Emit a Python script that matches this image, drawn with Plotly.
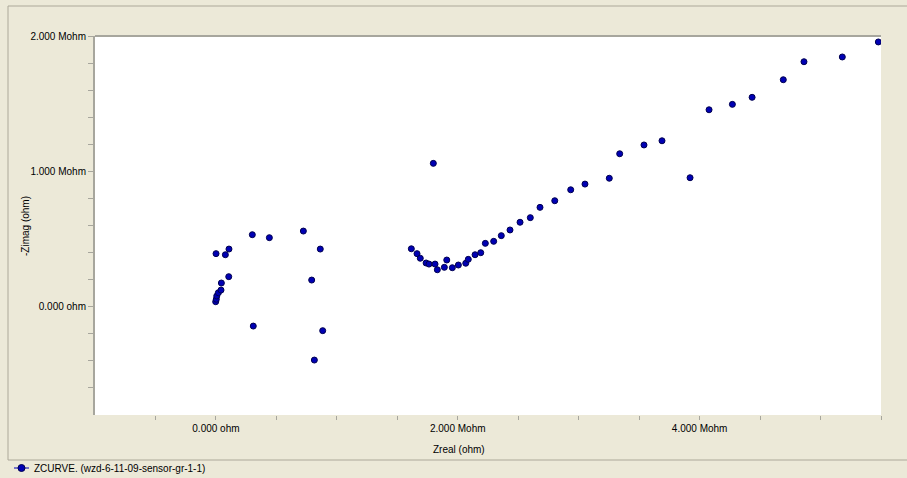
import plotly.graph_objects as go

# Impedance spectrum (Nyquist plot), values in Mohm
zreal_mohm = [
    -0.002, 0.003, 0.007, 0.020, 0.042, 0.045, 0.106, 0.001, 0.078, 0.108,
    0.301, 0.442, 0.723, 0.863, 0.792, 0.309, 0.883, 0.814,
    1.798, 1.616, 1.663, 1.690, 1.738, 1.762, 1.812, 1.831, 1.889, 1.909,
    1.955, 2.005, 2.066, 2.087, 2.143, 2.190, 2.228, 2.297, 2.360, 2.432,
    2.515, 2.600, 2.680, 2.802, 2.934, 3.052, 3.253, 3.339, 3.540, 3.689,
    3.921, 4.078, 4.271, 4.434, 4.692, 4.863, 5.180, 5.478,
]
zimag_neg_mohm = [
    0.037, 0.055, 0.079, 0.103, 0.123, 0.175, 0.222, 0.392, 0.384, 0.426,
    0.532, 0.510, 0.559, 0.426, 0.197, -0.143, -0.177, -0.394,
    1.059, 0.428, 0.392, 0.358, 0.323, 0.315, 0.315, 0.273, 0.291, 0.345,
    0.288, 0.308, 0.321, 0.350, 0.384, 0.399, 0.468, 0.483, 0.525, 0.567,
    0.624, 0.658, 0.734, 0.783, 0.864, 0.906, 0.949, 1.130, 1.195, 1.226,
    0.953, 1.455, 1.495, 1.547, 1.677, 1.810, 1.845, 1.956,
]

series_name = "ZCURVE. (wzd-6-11-09-sensor-gr-1-1)"

x_tick_vals = [-0.5, 0.0, 0.5, 1.0, 1.5, 2.0, 2.5, 3.0, 3.5, 4.0, 4.5, 5.0, 5.5]
x_tick_text = ["", "0.000 ohm", "", "", "", "2.000 Mohm", "", "", "", "4.000 Mohm", "", "", ""]
y_tick_vals = [-0.6, -0.4, -0.2, 0.0, 0.2, 0.4, 0.6, 0.8, 1.0, 1.2, 1.4, 1.6, 1.8, 2.0]
y_tick_text = ["", "", "", "0.000 ohm", "", "", "", "", "1.000 Mohm", "", "", "", "", "2.000 Mohm"]

BEIGE = "#ECE9D8"
FRAME = "#ACA899"
AXIS = "#A7A69D"
DOT = "#0000B4"
DOT_EDGE = "#000050"
FONT = dict(family="Liberation Sans, Arial, sans-serif", size=10, color="#000000")
MARKER = dict(size=6, color=DOT, line=dict(color=DOT_EDGE, width=1))

fig = go.Figure()
fig.add_trace(go.Scatter(
    x=zreal_mohm, y=zimag_neg_mohm, mode="markers", showlegend=False,
    name=series_name, marker=MARKER,
))

# plot area geometry in pixels
W, H = 907, 478
L, R, T, B = 95, 881, 36, 415


def px(xp):
    return (xp - L) / (R - L)


def py(yp):
    return (B - yp) / (B - T)


LEG_Y = 468  # legend row centre

fig.update_layout(
    width=W, height=H,
    margin=dict(l=L, r=W - R, t=T, b=H - B, pad=0, autoexpand=False),
    paper_bgcolor=BEIGE, plot_bgcolor="#FFFFFF",
    font=FONT,
    showlegend=False,
    xaxis=dict(
        range=[-1.0, 5.5], showgrid=False, zeroline=False, showline=False,
        tickmode="array", tickvals=x_tick_vals, ticktext=x_tick_text,
        ticks="outside", ticklen=4, tickcolor=AXIS, tickwidth=1,
        tickfont=FONT,
    ),
    yaxis=dict(
        range=[-0.8, 2.0], showgrid=False, zeroline=False,
        showline=True, linecolor=AXIS, linewidth=2,
        tickmode="array", tickvals=y_tick_vals, ticktext=y_tick_text,
        ticks="outside", ticklen=5, tickcolor=AXIS, tickwidth=1,
        tickfont=FONT,
    ),
    shapes=[
        # top edge of plot area
        dict(type="line", xref="paper", yref="paper", x0=0, x1=1, y0=1, y1=1,
             line=dict(color=AXIS, width=2)),
        # window frame
        dict(type="line", xref="paper", yref="paper", x0=px(8), x1=px(907),
             y0=py(6), y1=py(6), line=dict(color=FRAME, width=1)),
        dict(type="line", xref="paper", yref="paper", x0=px(8), x1=px(8),
             y0=py(6), y1=py(460), line=dict(color=FRAME, width=1)),
        dict(type="line", xref="paper", yref="paper", x0=px(8), x1=px(907),
             y0=py(460), y1=py(460), line=dict(color=FRAME, width=1)),
        # legend key: line with a dot
        dict(type="line", xref="paper", yref="paper", x0=px(14), x1=px(29),
             y0=py(LEG_Y), y1=py(LEG_Y), line=dict(color=DOT, width=1)),
        dict(type="circle", xref="paper", yref="paper",
             xsizemode="pixel", ysizemode="pixel",
             xanchor=px(21.5), yanchor=py(LEG_Y), x0=-3.5, x1=3.5, y0=-3.5, y1=3.5,
             fillcolor=DOT, line=dict(color=DOT_EDGE, width=1)),
    ],
    annotations=[
        dict(text="Zreal (ohm)", xref="paper", yref="paper", x=px(459), y=py(449),
             xanchor="center", yanchor="middle", showarrow=False, font=FONT),
        dict(text="-Zimag (ohm)", xref="paper", yref="paper", x=px(25), y=py(226),
             xanchor="center", yanchor="middle", textangle=-90, showarrow=False,
             font=FONT),
        dict(text=series_name, xref="paper", yref="paper", x=px(32), y=py(LEG_Y),
             xanchor="left", yanchor="middle", showarrow=False, font=FONT),
    ],
)

fig.write_html("out.html")
